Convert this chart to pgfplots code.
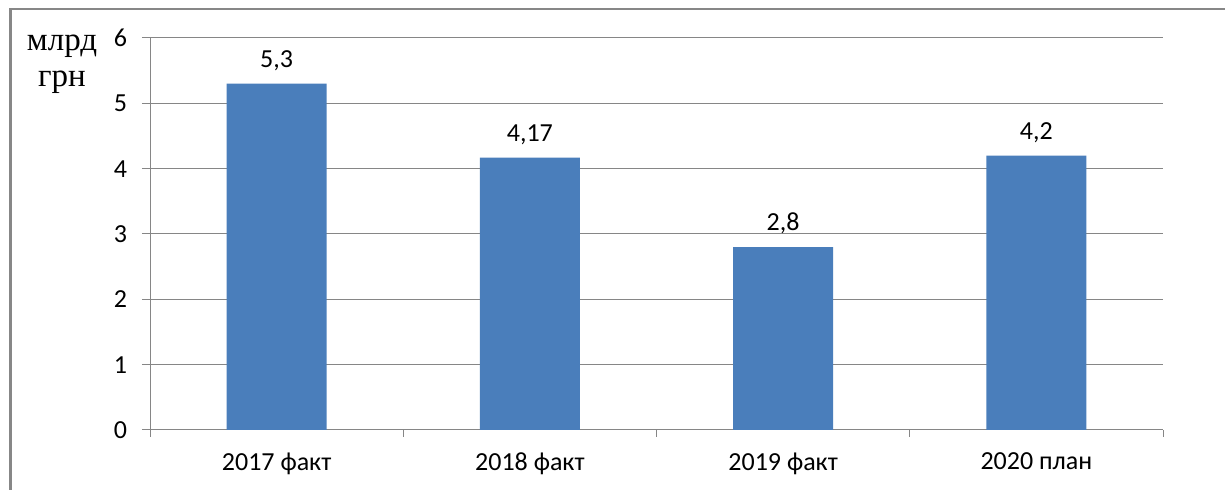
\documentclass[border=0pt]{standalone}
\usepackage{fontspec}
\setmainfont{Carlito}
\newfontfamily\serifcyr{Liberation Serif}
\usepackage{pgfplots}
\pgfplotsset{compat=1.18}
\usepackage{pgfplotstable}
\definecolor{barblue}{RGB}{74,126,187}
\definecolor{gridgray}{RGB}{134,134,134}
\definecolor{framegray}{RGB}{135,135,135}
\pgfplotstableread{
x y lab
0 5.3 {5,3}
1 4.17 {4,17}
2 2.8 {2,8}
3 4.2 {4,2}
}\datatable
\begin{document}
\begin{tikzpicture}
\useasboundingbox (0pt,0pt) rectangle (612.5pt,245pt);
\draw[framegray, line width=1.25pt] (5.25pt,-5pt) -- (5.25pt,240.5pt) -- (620pt,240.5pt);
\begin{axis}[
  at={(75pt,30pt)}, anchor=south west,
  scale only axis, width=506.5pt, height=196pt,
  xmin=-0.5, xmax=3.5, ymin=0, ymax=6,
  ytick={0,1,2,3,4,5,6},
  xtick={0,1,2,3},
  xticklabels={2017 факт,2018 факт,2019 факт,2020 план},
  axis x line*=bottom, axis y line*=left,
  axis line style={gridgray, line width=0.5pt, -},
  ymajorgrids, grid style={gridgray, line width=0.5pt},
  x tick style={draw=none},
  y tick style={gridgray, line width=0.5pt},
  major tick length=4pt, tick align=outside,
  extra x ticks={-0.5,0.5,1.5,2.5,3.5},
  extra x tick labels={},
  extra x tick style={x tick style={draw=gridgray, line width=0.5pt}, xmajorgrids=false, major tick length=3.5pt},
  tick label style={font=\fontsize{13}{15}\selectfont, text=black},
  /pgf/number format/assume math mode=true,
  xticklabel style={yshift=-4pt},
  yticklabel style={xshift=-4pt},
  clip=false,
]
\addplot[ybar, bar width=50pt, fill=barblue, draw=none,
  nodes near coords, point meta=explicit symbolic,
  every node near coord/.append style={font=\fontsize{13}{15}\selectfont, text=black, yshift=3pt}]
  table[x=x, y=y, meta=lab] {\datatable};
\end{axis}
\node[align=center, font=\serifcyr\fontsize{16.5}{18}\selectfont] at (31pt,213pt) {млрд\\грн};
\end{tikzpicture}
\end{document}
